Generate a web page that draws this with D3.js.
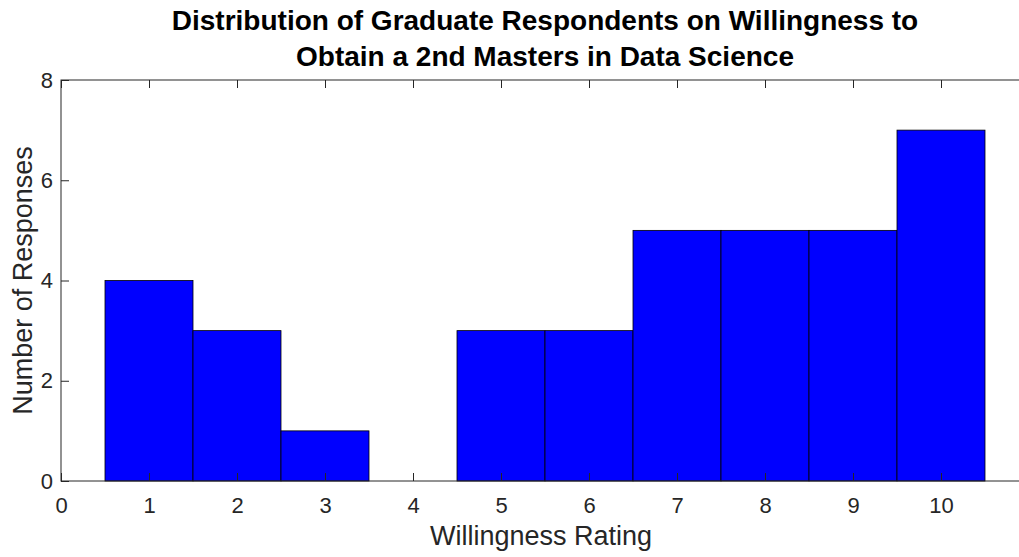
<!DOCTYPE html>
<html>
<head>
<meta charset="utf-8">
<script src="https://cdn.jsdelivr.net/npm/d3@7/dist/d3.min.js"></script>
<style>
  html, body { margin: 0; padding: 0; background: #fff; }
  svg { display: block; font-family: "Liberation Sans", Arial, Helvetica, sans-serif; }
</style>
</head>
<body>
<svg id="chart" width="1019" height="557"></svg>
<script>
// ---- data ----
const ratings = [1, 2, 3, 4, 5, 6, 7, 8, 9, 10];
const responses = [4, 3, 1, 0, 3, 3, 5, 5, 5, 7];
const xTicks = [0, 1, 2, 3, 4, 5, 6, 7, 8, 9, 10];
const yTicks = [0, 2, 4, 6, 8];
const titleLines = ["Distribution of Graduate Respondents on Willingness to",
                    "Obtain a 2nd Masters in Data Science"];
const xLabel = "Willingness Rating";
const yLabel = "Number of Responses";

// ---- layout ----
const W = 1019, H = 557;
const plot = { left: 61, top: 80, right: 1029, bottom: 481 };
const axisColor = "#262626";

const svg = d3.select("#chart");
const x = d3.scaleLinear().domain([0, 11]).range([plot.left, plot.right]);
const y = d3.scaleLinear().domain([0, 8]).range([plot.bottom, plot.top]);

// bars
svg.append("g").selectAll("rect")
  .data(ratings.map((r, i) => ({ r, v: responses[i] })).filter(d => d.v > 0))
  .join("rect")
  .attr("x", d => x(d.r - 0.5))
  .attr("width", d => x(d.r + 0.5) - x(d.r - 0.5))
  .attr("y", d => y(d.v))
  .attr("height", d => y(0) - y(d.v))
  .attr("fill", "#0000ff")
  .attr("stroke", "#000")
  .attr("stroke-width", 0.8);

// box
svg.append("rect")
  .attr("x", plot.left).attr("y", plot.top)
  .attr("width", plot.right - plot.left).attr("height", plot.bottom - plot.top)
  .attr("fill", "none").attr("stroke", axisColor).attr("stroke-width", 1);

// axes
const styleAxis = g => {
  g.select(".domain").remove();
  g.selectAll("line").attr("stroke", axisColor);
  g.selectAll("text").attr("fill", axisColor).attr("font-size", 22)
    .attr("font-family", "'Liberation Sans', Arial, sans-serif");
};
svg.append("g").attr("transform", `translate(0,${plot.bottom})`)
  .call(d3.axisBottom(x).tickValues(xTicks).tickFormat(d3.format("d"))
    .tickSizeInner(-8).tickSizeOuter(0).tickPadding(16))
  .call(styleAxis);
svg.append("g").attr("transform", `translate(0,${plot.top})`)
  .call(d3.axisTop(x).tickValues(xTicks).tickFormat("")
    .tickSizeInner(-8).tickSizeOuter(0))
  .call(styleAxis);
svg.append("g").attr("transform", `translate(${plot.left},0)`)
  .call(d3.axisLeft(y).tickValues(yTicks).tickFormat(d3.format("d"))
    .tickSizeInner(-8).tickSizeOuter(0).tickPadding(8))
  .call(styleAxis);

// title
const cx = (plot.left + plot.right) / 2;
svg.append("g").selectAll("text").data(titleLines).join("text")
  .attr("x", cx).attr("y", (d, i) => 30 + i * 36)
  .attr("text-anchor", "middle")
  .attr("font-size", 28).attr("font-weight", "bold").attr("fill", "#000")
  .text(d => d);

// axis labels
svg.append("text").attr("x", 541).attr("y", 545)
  .attr("text-anchor", "middle").attr("font-size", 27).attr("fill", axisColor)
  .text(xLabel);
svg.append("text")
  .attr("transform", `translate(32,${(plot.top + plot.bottom) / 2}) rotate(-90)`)
  .attr("text-anchor", "middle").attr("font-size", 27).attr("fill", axisColor)
  .text(yLabel);
</script>
</body>
</html>
